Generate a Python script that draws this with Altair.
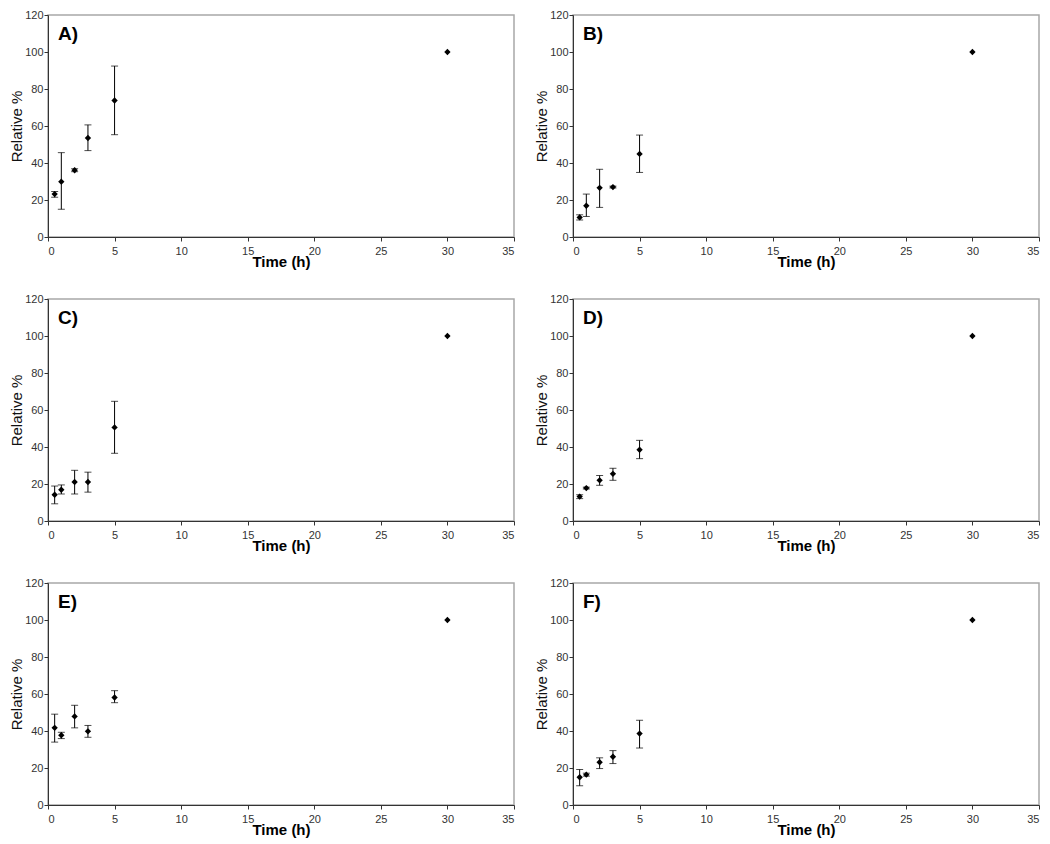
import altair as alt
import pandas as pd

times = [0.5, 1, 2, 3, 5, 30]
panels = ["A)", "B)", "C)", "D)", "E)", "F)"]

mean_A = [23.2, 29.9, 36.1, 53.5, 73.8, 100]
lo_A = [21.5, 15.0, 35.3, 46.7, 55.3, 100]
hi_A = [24.6, 45.6, 36.9, 60.6, 92.4, 100]

mean_B = [10.6, 16.9, 26.6, 27.0, 44.9, 100]
lo_B = [9.2, 11.1, 16.0, 26.5, 34.9, 100]
hi_B = [12.0, 23.2, 36.6, 27.5, 55.1, 100]

mean_C = [14.2, 16.9, 21.1, 21.1, 50.6, 100]
lo_C = [9.3, 14.6, 14.6, 15.6, 36.6, 100]
hi_C = [18.9, 19.5, 27.4, 26.4, 64.7, 100]

mean_D = [13.2, 17.8, 22.0, 25.5, 38.5, 100]
lo_D = [12.1, 17.3, 19.3, 22.0, 33.7, 100]
hi_D = [14.2, 18.3, 24.6, 28.5, 43.6, 100]

mean_E = [41.7, 37.7, 47.9, 39.8, 58.1, 100]
lo_E = [34.0, 35.9, 41.7, 36.6, 55.3, 100]
hi_E = [49.1, 39.3, 53.9, 43.0, 61.8, 100]

mean_F = [15.0, 16.4, 23.1, 26.1, 38.6, 100]
lo_F = [10.4, 15.6, 19.7, 22.4, 30.8, 100]
hi_F = [19.2, 17.2, 25.5, 29.4, 45.8, 100]

series = {
    "A)": (mean_A, lo_A, hi_A),
    "B)": (mean_B, lo_B, hi_B),
    "C)": (mean_C, lo_C, hi_C),
    "D)": (mean_D, lo_D, hi_D),
    "E)": (mean_E, lo_E, hi_E),
    "F)": (mean_F, lo_F, hi_F),
}

x_ticks = [0, 5, 10, 15, 20, 25, 30, 35]
y_ticks = [0, 20, 40, 60, 80, 100, 120]

W, H = 466, 222
FONT = "Liberation Sans"

x_scale = alt.Scale(domain=[0, 35], nice=False)
y_scale = alt.Scale(domain=[0, 120], nice=False)
x_axis = alt.Axis(values=x_ticks, title="Time (h)", titleFontWeight="bold",
                  titleFontSize=15, titleColor="#000", titlePadding=-2,
                  labelFontSize=11, labelColor="#333", labelPadding=4,
                  labelOverlap=False)
y_axis = alt.Axis(values=y_ticks, title="Relative %", titleFontWeight="normal",
                  titleFontSize=15, titleColor="#111", titlePadding=0,
                  labelFontSize=11, labelColor="#333", labelPadding=1,
                  labelOverlap=False)


def panel(label):
    m, lo, hi = series[label]
    df = pd.DataFrame({"t": times, "mean": m, "lo": lo, "hi": hi})
    err = df[df["hi"] > df["lo"]]
    xe = alt.X("t:Q", scale=x_scale, axis=x_axis)
    base = alt.Chart(err)
    rules = base.mark_rule(color="#000", strokeWidth=1).encode(
        x=xe, y=alt.Y("lo:Q", scale=y_scale, axis=y_axis), y2="hi:Q")
    cap_lo = base.mark_tick(color="#000", orient="horizontal", size=7, thickness=1).encode(
        x=xe, y=alt.Y("lo:Q", scale=y_scale, axis=y_axis))
    cap_hi = base.mark_tick(color="#000", orient="horizontal", size=7, thickness=1).encode(
        x=xe, y=alt.Y("hi:Q", scale=y_scale, axis=y_axis))
    pts = alt.Chart(df).mark_point(shape="diamond", filled=True, color="#000", size=40,
                                   opacity=1).encode(
        x=xe, y=alt.Y("mean:Q", scale=y_scale, axis=y_axis))
    lab = alt.Chart(pd.DataFrame({"lab": [label]})).mark_text(
        fontSize=19, fontWeight="bold", font=FONT, align="left", baseline="middle",
        color="#000").encode(x=alt.value(10), y=alt.value(19), text="lab:N")
    return alt.layer(pts, rules, cap_lo, cap_hi, lab).properties(width=W, height=H)


rows = []
for i in range(0, 6, 2):
    rows.append(alt.hconcat(panel(panels[i]), panel(panels[i + 1]), spacing=17))

chart = alt.vconcat(*rows, spacing=22).properties(
    padding={"left": 0, "top": 0, "right": 0, "bottom": 0}
).configure_view(
    stroke="#a8a8a8", strokeWidth=1.5
).configure_axis(
    domainColor="#333", tickColor="#333", grid=False, tickSize=4,
    labelFont=FONT, titleFont=FONT
)

chart.save("out.html", embed_options={"renderer": "svg", "actions": False})
